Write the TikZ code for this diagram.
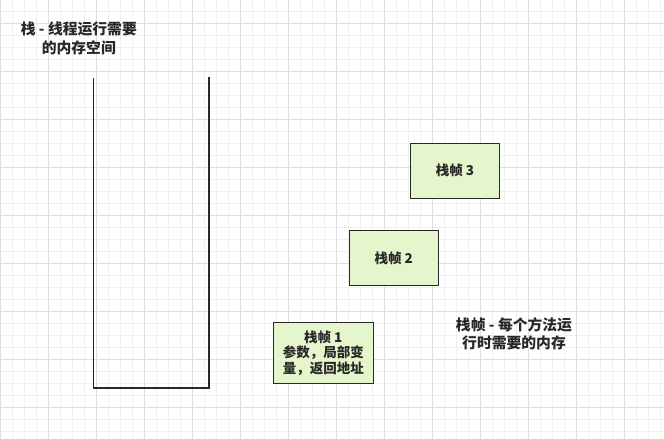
\documentclass[tikz,border=0pt]{standalone}
\usepackage{fontspec}
\setmainfont{Noto Sans CJK SC}
\definecolor{framefill}{RGB}{230,246,204}
\definecolor{inkgray}{RGB}{40,40,40}
\definecolor{gridminor}{RGB}{240,240,240}
\definecolor{gridmajor}{RGB}{222,222,222}
\tikzset{
  frame/.style={draw=inkgray, line width=1.3pt, fill=framefill, rectangle, align=center,
    font=\bfseries\fontsize{13.5}{15.5}\selectfont, text=inkgray},
  caption/.style={align=center, font=\bfseries\fontsize{14.8}{18.5}\selectfont, text=inkgray}
}
\begin{document}
\begin{tikzpicture}[x=1pt, y=-1pt]
                \fill[white] (0,0) rectangle (664,439);
                \useasboundingbox (0,0) rectangle (664,439);
                \foreach \gx in {0,12,...,660} \draw[gridminor, line width=0.8pt] (\gx,0) -- (\gx,439);
                \foreach \gy in {11,23,...,439} \draw[gridminor, line width=0.8pt] (0,\gy) -- (664,\gy);
                \foreach \gx in {0,48,...,660} \draw[gridmajor, line width=0.8pt] (\gx,0) -- (\gx,439);
                \foreach \gy in {23,71,...,439} \draw[gridmajor, line width=0.8pt] (0,\gy) -- (664,\gy);

                \coordinate (S1) at (93.7,78);
                \coordinate (S2) at (93.7,388);
                \coordinate (S3) at (209,388);
                \coordinate (S4) at (209,77);
                \draw[inkgray, line width=1.3pt] (S1) -- (S2) -- (S3) -- (S4);

                \node[caption] (T1) at (78.8,38.5) {栈 - 线程运行需要\\[1pt]的内存空间};
                \node[caption] (T2) at (514,334) {栈帧 - 每个方法运\\[-1pt]行时需要的内存};

                \node[frame, minimum width=100pt, minimum height=61pt] (F1) at (323.3,352.8) {栈帧 1\\参数，局部变\\量，返回地址};
                \node[frame, minimum width=89pt, minimum height=55pt] (F2) at (393.8,258.2) {栈帧 2};
                \node[frame, minimum width=88.6pt, minimum height=55pt] (F3) at (455,170.8) {栈帧 3};
            \end{tikzpicture}
\end{document}
